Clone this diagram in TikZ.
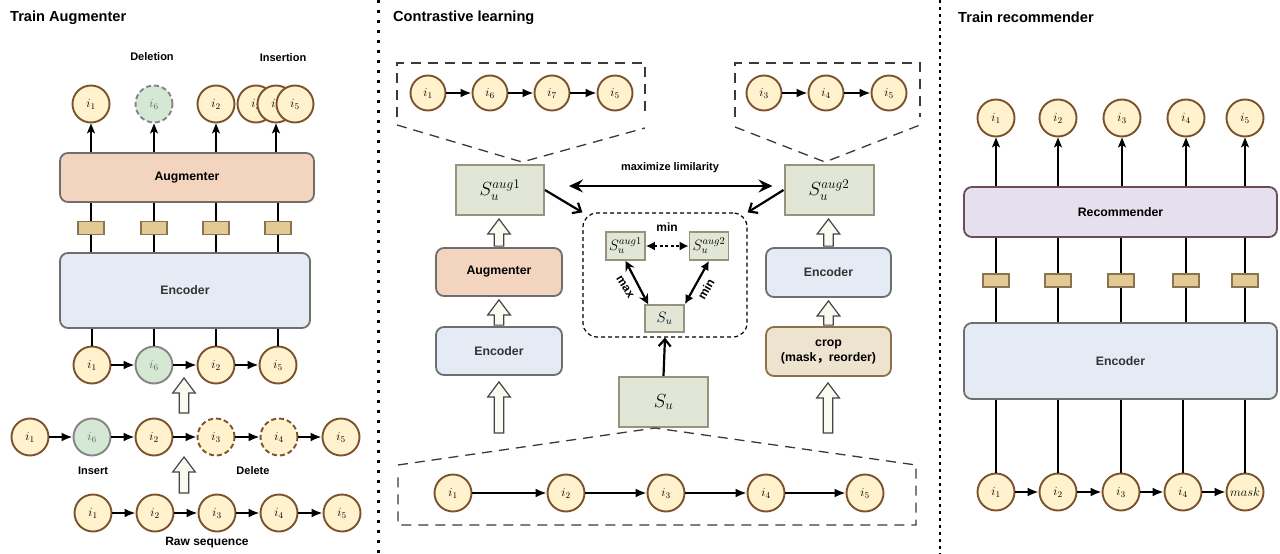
\RequirePackage{fix-cm}
\documentclass[tikz,border=0pt]{standalone}
\usepackage[no-math]{fontspec}
\newfontfamily\labfont{Liberation Sans}
\newfontfamily\cjkfont{Noto Sans CJK SC}
\usetikzlibrary{arrows.meta,calc}
\definecolor{itemfill}{HTML}{FFF2CC}
\definecolor{itemdraw}{HTML}{7B522D}
\definecolor{greenfill}{HTML}{D5E8D4}
\definecolor{greendraw}{HTML}{848484}
\definecolor{augfill}{HTML}{F3D4BF}
\definecolor{encfill}{HTML}{E4EBF5}
\definecolor{boxdraw}{HTML}{6E6E6E}
\definecolor{embfill}{HTML}{E3C994}
\definecolor{embdraw}{HTML}{8A7350}
\definecolor{sfill}{HTML}{E2E6D7}
\definecolor{sdraw}{HTML}{9A927C}
\definecolor{cropfill}{HTML}{EEE3CF}
\definecolor{cropdraw}{HTML}{8C7049}
\definecolor{recfill}{HTML}{E6DFEE}
\definecolor{recdraw}{HTML}{6D4B5C}
\definecolor{hollowfill}{HTML}{FBFAF1}
\definecolor{hollowdraw}{HTML}{454545}
\definecolor{calloutdraw}{HTML}{3A3A3A}
\definecolor{enctext}{HTML}{333333}
\definecolor{greytext}{HTML}{666666}
\newcommand{\hollowarrow}[2]{%
  \path[hollow] let \p1=#1, \p2=#2 in
    (\x1-4.8pt,\y1) -- (\x1-4.8pt,\y2-15pt) -- (\x1-11.3pt,\y2-15pt) -- (\x1,\y2)
    -- (\x1+11.3pt,\y2-15pt) -- (\x1+4.8pt,\y2-15pt) -- (\x1+4.8pt,\y1) -- cycle;}
\begin{document}
\begin{tikzpicture}[x=1pt,y=-1pt,
  item/.style={circle, minimum size=37pt, inner sep=0pt, fill=itemfill, draw=itemdraw, line width=1.9pt, font=\fontsize{12.5}{14}\selectfont},
  smallitem/.style={item, minimum size=35pt},
  greenitem/.style={item, fill=greenfill, draw=greendraw, text=greytext},
  delitem/.style={dash pattern=on 5pt off 3pt},
  panel/.style={rectangle, rounded corners=8pt, line width=1.8pt, draw=boxdraw, inner sep=0pt, font=\labfont\bfseries\fontsize{12.3}{14}\selectfont},
  emb/.style={rectangle, minimum width=26pt, minimum height=13pt, fill=embfill, draw=embdraw, line width=1.5pt, inner sep=0pt},
  sbox/.style={rectangle, fill=sfill, draw=sdraw, line width=2pt, inner sep=0pt},
  seq/.style={-{Latex[length=11pt,width=9pt]}, line width=2pt},
  uparr/.style={-{Stealth[length=10pt,width=8pt,inset=2.5pt]}, line width=2.2pt},
  wire/.style={line width=2pt},
  lab/.style={font=\labfont\bfseries\fontsize{11}{13}\selectfont},
  ptitle/.style={font=\labfont\bfseries\fontsize{14.6}{17}\selectfont, anchor=west, inner sep=0pt},
  callout/.style={draw=calloutdraw, line width=1.3pt, dash pattern=on 10pt off 7pt},
  hollow/.style={fill=hollowfill, draw=hollowdraw, line width=1.2pt, line join=miter},
  openarr/.style={-{Straight Barb[length=7pt,width=12pt]}, line width=2.2pt},
  sepline/.style={line width=3pt}
]
\path[fill=white] (0,0) rectangle (1280,554);
\useasboundingbox (0,0) rectangle (1280,554);

% separators
\draw[sepline, dash pattern=on 3pt off 7pt] (378,0) -- (378,554);
\draw[sepline, line width=2.6pt, dash pattern=on 2.6pt off 4.4pt] (940,0) -- (940,554);

%================ LEFT PANEL =================
\node[ptitle] (tA) at (10,18) {Train Augmenter};
\node[lab] (ldel) at (152,57) {Deletion};
\node[lab] (lins) at (283,58) {Insertion};

\node[panel, fill=augfill, minimum width=254pt, minimum height=49pt] (augL) at (187,177.5) {Augmenter};
\node[panel, fill=encfill, minimum width=250pt, minimum height=75pt, text=enctext] (encL) at (185,290.5) {Encoder};

\node[emb] (eL1) at (91,228) {};
\node[emb] (eL2) at (154,228) {};
\node[emb] (eL3) at (216,228) {};
\node[emb] (eL4) at (278,228) {};

\node[item] (t1) at (91,104) {$i_1$};
\node[greenitem, delitem] (t6) at (154,104) {$i_6$};
\node[item] (t2) at (216,104) {$i_2$};
\node[item] (t3) at (256,104) {$i_3$};
\node[item] (t4) at (276,104) {$i_4$};
\node[item] (t5) at (295,104) {$i_5$};

\draw[uparr] (t1 |- augL.north) -- (t1);
\draw[uparr] (t6 |- augL.north) -- (t6);
\draw[uparr] (t2 |- augL.north) -- (t2);
\draw[uparr] (t4 |- augL.north) -- (t4);

\foreach \e in {eL1,eL2,eL3,eL4}{
  \draw[wire] (\e |- augL.south) -- (\e) -- (\e |- encL.north);
}

\node[item] (a1) at (92,365) {$i_1$};
\node[greenitem] (a6) at (154,365) {$i_6$};
\node[item] (a2) at (216,365) {$i_2$};
\node[item] (a5) at (278,365) {$i_5$};
\foreach \n in {a1,a6,a2,a5}{ \draw[wire] (\n |- encL.south) -- (\n); }
\draw[seq] (a1) -- (a6);
\draw[seq] (a6) -- (a2);
\draw[seq] (a2) -- (a5);

\node[item] (b1) at (30,437) {$i_1$};
\node[greenitem] (b6) at (92,437) {$i_6$};
\node[item] (b2) at (154,437) {$i_2$};
\node[item, delitem] (b3) at (216,437) {$i_3$};
\node[item, delitem] (b4) at (279,437) {$i_4$};
\node[item] (b5) at (341,437) {$i_5$};
\draw[seq] (b1) -- (b6);
\draw[seq] (b6) -- (b2);
\draw[seq] (b2) -- (b3);
\draw[seq] (b3) -- (b4);
\draw[seq] (b4) -- (b5);
\node[lab] (lInsert) at (93,471) {Insert};
\node[lab] (lDelete) at (253,471) {Delete};

\node[item] (c1) at (93,513) {$i_1$};
\node[item] (c2) at (155,513) {$i_2$};
\node[item] (c3) at (217,513) {$i_3$};
\node[item] (c4) at (279,513) {$i_4$};
\node[item] (c5) at (342,513) {$i_5$};
\draw[seq] (c1) -- (c2);
\draw[seq] (c2) -- (c3);
\draw[seq] (c3) -- (c4);
\draw[seq] (c4) -- (c5);
\node[lab, font=\labfont\bfseries\fontsize{12}{14}\selectfont] (lraw) at (207,543) {Raw sequence};

\coordinate (ha1s) at (184,413);
\coordinate (ha1e) at (184,378);
\coordinate (ha2s) at (184,493);
\coordinate (ha2e) at (184,457);
\hollowarrow{(ha1s)}{(ha1e)}
\hollowarrow{(ha2s)}{(ha2e)}

%================ MIDDLE PANEL =================
\node[ptitle] (tC) at (393,18) {Contrastive learning};

% top-left callout
\draw[callout] (397,117) -- (397,63) -- (645,63) -- (645,117);
\draw[callout] (397,125) -- (522,162) -- (645,128);
\node[smallitem] (p1) at (428,93) {$i_1$};
\node[smallitem] (p2) at (490,93) {$i_6$};
\node[smallitem] (p3) at (552,93) {$i_7$};
\node[smallitem] (p4) at (615,93) {$i_5$};
\draw[seq] (p1) -- (p2);
\draw[seq] (p2) -- (p3);
\draw[seq] (p3) -- (p4);

% top-right callout
\draw[callout] (735,117) -- (735,63) -- (920,63) -- (920,117);
\draw[callout] (735,127) -- (825,162) -- (920,125);
\node[smallitem] (q1) at (764,93) {$i_3$};
\node[smallitem] (q2) at (826,93) {$i_4$};
\node[smallitem] (q3) at (889,93) {$i_5$};
\draw[seq] (q1) -- (q2);
\draw[seq] (q2) -- (q3);

% S boxes
\node[sbox, minimum width=88pt, minimum height=50pt, font=\fontsize{19}{22}\selectfont] (s1) at (500,190) {$S_u^{aug1}$};
\node[sbox, minimum width=89pt, minimum height=50pt, font=\fontsize{19}{22}\selectfont] (s2) at (829,190) {$S_u^{aug2}$};
\node[lab] (lmax) at (670,168) {maximize limilarity};
\draw[{Stealth[length=14pt,width=13pt,inset=5pt]}-{Stealth[length=14pt,width=13pt,inset=5pt]}, line width=2.2pt]
  ($(s1.east)+(24,-4)$) -- ($(s2.west)+(-11,-4)$);

% left column
\node[panel, fill=augfill, minimum width=126pt, minimum height=48pt] (augM) at (499,272) {Augmenter};
\node[panel, fill=encfill, minimum width=126pt, minimum height=48pt, text=enctext] (encM) at (499,351) {Encoder};
\hollowarrow{($(augM.north)+(0,-1)$)}{($(s1.south)+(0,3)$)}
\hollowarrow{($(encM.north)+(0,-1)$)}{($(augM.south)+(0,3)$)}
\coordinate (hm3s) at (499,433);
\hollowarrow{(hm3s)}{($(encM.south)+(0,6)$)}

% right column
\node[panel, fill=encfill, minimum width=125pt, minimum height=49pt, text=enctext] (encR) at (828.5,272.5) {Encoder};
\node[panel, fill=cropfill, draw=cropdraw, minimum width=125pt, minimum height=49pt, align=center] (crop) at (828.5,351.5) {crop\\[1pt](mask{\cjkfont ，}reorder)};
\hollowarrow{($(encR.north)+(0,-1)$)}{($(s2.south)+(0,3)$)}
\hollowarrow{($(crop.north)+(0,-1)$)}{($(encR.south)+(0,3)$)}
\coordinate (hr3s) at (828,433);
\hollowarrow{(hr3s)}{($(crop.south)+(0,6)$)}

% central dashed box
\node[draw, rounded corners=14pt, line width=1.2pt, dash pattern=on 4pt off 3pt, minimum width=164pt, minimum height=124pt, inner sep=0pt] (cbox) at (665,275) {};
\draw[openarr] (s1.east) -- (cbox.north west);
\draw[openarr] (s2.west) -- (cbox.north east);

\node[sbox, minimum width=39pt, minimum height=28pt, line width=1.8pt, font=\fontsize{15}{17}\selectfont] (s1s) at (625.5,246) {$S_u^{aug1}$};
\node[sbox, minimum width=39pt, minimum height=28pt, line width=1.8pt, font=\fontsize{15}{17}\selectfont] (s2s) at (709,246) {$S_u^{aug2}$};
\node[sbox, minimum width=39pt, minimum height=27pt, line width=1.8pt, font=\fontsize{15}{17}\selectfont] (sus) at (664.5,318.5) {$S_u$};
\draw[{Latex[length=9pt,width=9pt]}-{Latex[length=9pt,width=9pt]}, line width=1.5pt, dash pattern=on 3pt off 2.5pt] (s1s.east) -- (s2s.west);
\draw[{Stealth[length=10pt,width=10pt,inset=3.5pt]}-{Stealth[length=10pt,width=10pt,inset=3.5pt]}, line width=2.2pt] (s1s.south) -- ($(sus.north west)+(4,0)$);
\draw[{Latex[length=9pt,width=9pt]}-{Latex[length=9pt,width=9pt]}, line width=2.2pt] (sus.north east) -- (s2s.south);
\node[lab, font=\labfont\bfseries\fontsize{12}{14}\selectfont] (lmin1) at (667,227) {min};
\node[lab, font=\labfont\bfseries\fontsize{12}{14}\selectfont, rotate=-58] (lmax2) at (625,287) {max};
\node[lab, font=\labfont\bfseries\fontsize{12}{14}\selectfont, rotate=60] (lmin2) at (706,289) {min};

\node[sbox, minimum width=89pt, minimum height=50pt, font=\fontsize{19}{22}\selectfont] (subig) at (663.5,402) {$S_u$};
\draw[openarr] (subig.north) -- (cbox.south);

% bottom callout
\draw[callout] (398,465) -- (655,428) -- (916,465) -- (916,525) -- (398,525) -- (398,473);
\node[item] (m1) at (453,493) {$i_1$};
\node[item] (m2) at (566,493) {$i_2$};
\node[item] (m3) at (666,493) {$i_3$};
\node[item] (m4) at (766,493) {$i_4$};
\node[item] (m5) at (865,493) {$i_5$};
\draw[seq] (m1) -- (m2);
\draw[seq] (m2) -- (m3);
\draw[seq] (m3) -- (m4);
\draw[seq] (m4) -- (m5);

%================ RIGHT PANEL =================
\node[ptitle] (tR) at (958,17) {Train recommender};
\node[panel, fill=recfill, draw=recdraw, minimum width=313pt, minimum height=50pt] (rec) at (1120.5,212) {Recommender};
\node[panel, fill=encfill, minimum width=313pt, minimum height=76pt, text=enctext] (encR2) at (1120.5,361) {Encoder};

\node[item] (rt1) at (996,118) {$i_1$};
\node[item] (rt2) at (1058,118) {$i_2$};
\node[item] (rt3) at (1122,118) {$i_3$};
\node[item] (rt4) at (1186,118) {$i_4$};
\node[item] (rt5) at (1245,118) {$i_5$};
\foreach \n in {rt1,rt2,rt3,rt4,rt5}{ \draw[uparr] (\n |- rec.north) -- (\n); }

\node[emb] (re1) at (996,280.5) {};
\node[emb] (re2) at (1058,280.5) {};
\node[emb] (re3) at (1121,280.5) {};
\node[emb] (re4) at (1186,280.5) {};
\node[emb] (re5) at (1245,280.5) {};
\foreach \e in {re1,re2,re3,re4,re5}{
  \draw[wire] (\e |- rec.south) -- (\e) -- (\e |- encR2.north);
}

\node[item] (rb1) at (996,492) {$i_1$};
\node[item] (rb2) at (1058,492) {$i_2$};
\node[item] (rb3) at (1121,492) {$i_3$};
\node[item] (rb4) at (1183,492) {$i_4$};
\node[item] (rb5) at (1245,492) {$mask$};
\foreach \n in {rb1,rb2,rb3,rb4,rb5}{ \draw[wire] (\n |- encR2.south) -- (\n); }
\draw[seq] (rb1) -- (rb2);
\draw[seq] (rb2) -- (rb3);
\draw[seq] (rb3) -- (rb4);
\draw[seq] (rb4) -- (rb5);
\end{tikzpicture}
\end{document}
